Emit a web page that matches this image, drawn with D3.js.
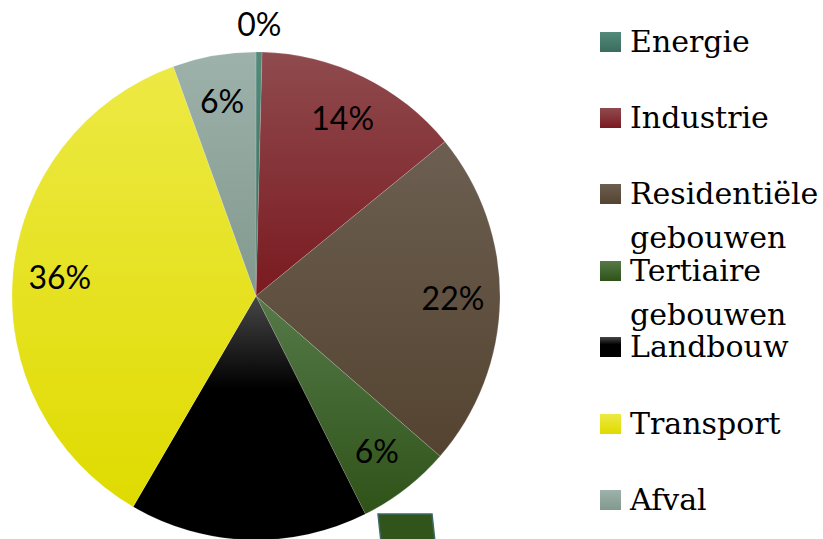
<!DOCTYPE html>
<html>
<head>
<meta charset="utf-8">
<script src="https://cdn.jsdelivr.net/npm/d3@7"></script>
<style>
  body { margin: 0; background: #fff; }
  svg { display: block; }
</style>
</head>
<body>
<div id="chart"></div>
<script>
// sectors and their share (%)
const sectors = ["Energie", "Industrie", "Residentiële gebouwen", "Tertiaire gebouwen", "Landbouw", "Transport", "Afval"];
const shares = [0.4, 13.7, 22.3, 6.2, 15.8, 36.1, 5.5];
const labels = ["0%", "14%", "22%", "6%", "16%", "36%", "6%"];
// gradient top / bottom colour per sector
const topColors = ["#538a7a", "#8f4b4e", "#6c5f51", "#557a48", "#474747", "#ede944", "#9db2aa"];
const botColors = ["#3a6c5e", "#7a1a20", "#544330", "#2f5218", "#000000", "#dfdb00", "#82998f"];

const W = 823, H = 539;
const cx = 256, cy = 296, R = 244;

const svg = d3.select("#chart").append("svg")
  .attr("width", W).attr("height", H);

const defs = svg.append("defs");
sectors.forEach(function(s, i) {
  const g = defs.append("linearGradient")
    .attr("id", "grad" + i)
    .attr("x1", 0).attr("y1", 0).attr("x2", 0).attr("y2", 1);
  g.append("stop").attr("offset", 0).attr("stop-color", topColors[i]);
  g.append("stop").attr("offset", i === 4 ? 0.38 : 1).attr("stop-color", botColors[i]);
  if (i === 4) g.append("stop").attr("offset", 1).attr("stop-color", botColors[i]);
});

const pie = d3.pie().sort(null).value(function(d) { return d; });
const arcs = pie(shares);
const arc = d3.arc().innerRadius(0).outerRadius(R);
const labelArc = d3.arc().innerRadius(197).outerRadius(197);
const outsideArc = d3.arc().innerRadius(271).outerRadius(271);

const pieG = svg.append("g").attr("transform", "translate(" + cx + "," + cy + ")");

pieG.selectAll(".slice")
  .data(arcs)
  .enter().append("path")
  .attr("class", "slice")
  .attr("d", arc)
  .attr("fill", function(d, i) { return "url(#grad" + i + ")"; })
  .attr("stroke", "rgba(255,255,255,0.25)")
  .attr("stroke-width", 0.6);

pieG.selectAll(".lbl")
  .data(arcs)
  .enter().append("text")
  .attr("class", "lbl")
  .attr("transform", function(d) {
    const p = (d.data < 1 ? outsideArc : labelArc).centroid(d);
    return "translate(" + p[0] + "," + p[1] + ")";
  })
  .attr("text-anchor", "middle")
  .attr("dy", "0.35em")
  .style("font-family", "Lato, 'Open Sans', sans-serif")
  .style("font-size", "32px")
  .style("fill", "#000")
  .text(function(d, i) { return labels[i]; });

// stray marker shape below the pie
svg.append("path")
  .attr("d", "M378,514 L432,514 L435,542 L381,542 Z")
  .attr("fill", "#31541b")
  .attr("stroke", "#3d6a66")
  .attr("stroke-width", 1.5);

// legend
const legendY = [42, 118, 194, 271, 347, 424, 500];
const legend = svg.append("g");
sectors.forEach(function(s, i) {
  const row = legend.append("g").attr("transform", "translate(600," + legendY[i] + ")");
  row.append("rect")
    .attr("x", 0).attr("y", -10)
    .attr("width", 21).attr("height", 20)
    .attr("fill", "url(#grad" + i + ")");
  const words = s.split(" ");
  const t = row.append("text")
    .attr("x", 30).attr("y", 10)
    .style("font-family", "'DejaVu Serif', serif")
    .style("font-size", "30px")
    .style("fill", "#000");
  words.forEach(function(w, j) {
    t.append("tspan").attr("x", 30).attr("dy", j === 0 ? 0 : 44).text(w);
  });
});
</script>
</body>
</html>
